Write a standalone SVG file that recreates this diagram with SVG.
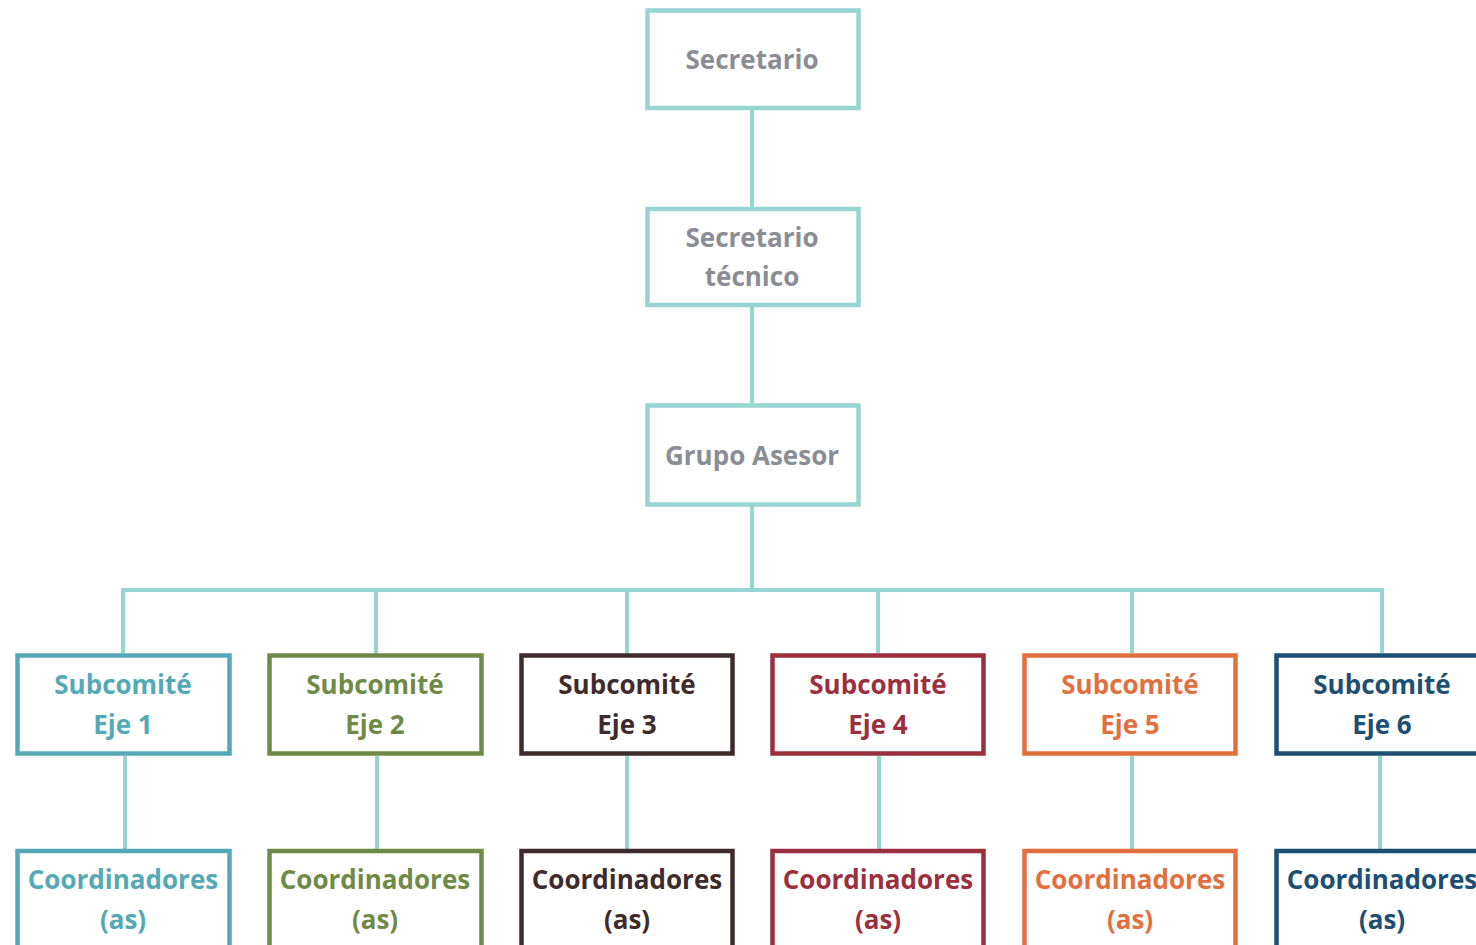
<svg xmlns="http://www.w3.org/2000/svg" width="1476" height="945" viewBox="0 0 1476 945">
<style>
.box{fill:#fff;stroke-width:4.5}
.top{stroke:#96d5d2}
.t{font-family:"Open Sans","Noto Sans",sans-serif;font-weight:700;font-size:26px;text-anchor:middle}
.g{fill:#8b8d94}
.c1{stroke:#55a9b6}.f1{fill:#55a9b6}
.c2{stroke:#6f8a46}.f2{fill:#6f8a46}
.c3{stroke:#3e2b2c}.f3{fill:#3e2b2c}
.c4{stroke:#9b2f3e}.f4{fill:#9b2f3e}
.c5{stroke:#e2703f}.f5{fill:#e2703f}
.c6{stroke:#1c4f73}.f6{fill:#1c4f73}
.ln{stroke:#96d5d2;stroke-width:4;fill:none}
</style>
<rect width="1476" height="945" fill="#fff"/>
<g id="connectors">
<line class="ln" x1="752" y1="110" x2="752" y2="207"/>
<line class="ln" x1="752" y1="307" x2="752" y2="404"/>
<line class="ln" x1="752" y1="506" x2="752" y2="590"/>
<polyline class="ln" points="123,653 123,590 1382,590 1382,653"/>
<line class="ln" x1="376" y1="590" x2="376" y2="653"/>
<line class="ln" x1="627" y1="590" x2="627" y2="653"/>
<line class="ln" x1="878" y1="590" x2="878" y2="653"/>
<line class="ln" x1="1132" y1="590" x2="1132" y2="653"/>
<line class="ln" x1="125" y1="756" x2="125" y2="849"/>
<line class="ln" x1="377" y1="756" x2="377" y2="849"/>
<line class="ln" x1="627" y1="756" x2="627" y2="849"/>
<line class="ln" x1="879" y1="756" x2="879" y2="849"/>
<line class="ln" x1="1132" y1="756" x2="1132" y2="849"/>
<line class="ln" x1="1380" y1="756" x2="1380" y2="849"/>
</g>
<g id="secretario">
<rect class="box top" x="647.5" y="10.5" width="211" height="97.5"/>
<text class="t g" x="752" y="69">Secretario</text>
</g>
<g id="secretario-tecnico">
<rect class="box top" x="647.5" y="209" width="211" height="96"/>
<text class="t g" x="752" y="247">Secretario</text>
<text class="t g" x="752" y="286">técnico</text>
</g>
<g id="grupo-asesor">
<rect class="box top" x="647.5" y="405.5" width="211" height="99"/>
<text class="t g" x="752" y="465">Grupo Asesor</text>
</g>
<g id="sub1">
<rect class="box c1" x="17.5" y="655.5" width="212" height="98"/>
<text class="t f1" x="123" y="694">Subcomité</text>
<text class="t f1" x="123" y="734">Eje 1</text>
</g>
<g id="sub2">
<rect class="box c2" x="269.5" y="655.5" width="212" height="98"/>
<text class="t f2" x="375" y="694">Subcomité</text>
<text class="t f2" x="375" y="734">Eje 2</text>
</g>
<g id="sub3">
<rect class="box c3" x="521.5" y="655.5" width="211" height="98"/>
<text class="t f3" x="627" y="694">Subcomité</text>
<text class="t f3" x="627" y="734">Eje 3</text>
</g>
<g id="sub4">
<rect class="box c4" x="772.5" y="655.5" width="211" height="98"/>
<text class="t f4" x="878" y="694">Subcomité</text>
<text class="t f4" x="878" y="734">Eje 4</text>
</g>
<g id="sub5">
<rect class="box c5" x="1024.5" y="655.5" width="211" height="98"/>
<text class="t f5" x="1130" y="694">Subcomité</text>
<text class="t f5" x="1130" y="734">Eje 5</text>
</g>
<g id="sub6">
<rect class="box c6" x="1276.5" y="655.5" width="212" height="98"/>
<text class="t f6" x="1382" y="694">Subcomité</text>
<text class="t f6" x="1382" y="734">Eje 6</text>
</g>
<g id="coord1">
<rect class="box c1" x="17.5" y="851" width="212" height="120"/>
<text class="t f1" x="123" y="889">Coordinadores</text>
<text class="t f1" x="123" y="929">(as)</text>
</g>
<g id="coord2">
<rect class="box c2" x="269.5" y="851" width="212" height="120"/>
<text class="t f2" x="375" y="889">Coordinadores</text>
<text class="t f2" x="375" y="929">(as)</text>
</g>
<g id="coord3">
<rect class="box c3" x="521.5" y="851" width="211" height="120"/>
<text class="t f3" x="627" y="889">Coordinadores</text>
<text class="t f3" x="627" y="929">(as)</text>
</g>
<g id="coord4">
<rect class="box c4" x="772.5" y="851" width="211" height="120"/>
<text class="t f4" x="878" y="889">Coordinadores</text>
<text class="t f4" x="878" y="929">(as)</text>
</g>
<g id="coord5">
<rect class="box c5" x="1024.5" y="851" width="211" height="120"/>
<text class="t f5" x="1130" y="889">Coordinadores</text>
<text class="t f5" x="1130" y="929">(as)</text>
</g>
<g id="coord6">
<rect class="box c6" x="1276.5" y="851" width="212" height="120"/>
<text class="t f6" x="1382" y="889">Coordinadores</text>
<text class="t f6" x="1382" y="929">(as)</text>
</g>
</svg>
